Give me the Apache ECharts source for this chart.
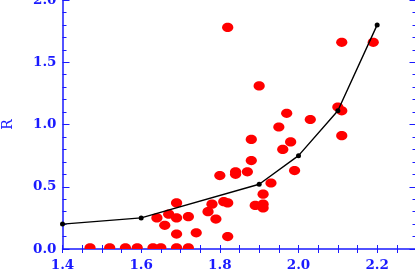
<!DOCTYPE html>
<html><head><meta charset="utf-8">
<script src="https://cdn.jsdelivr.net/npm/echarts@6/dist/echarts.min.js"></script>
<style>html,body{margin:0;padding:0;background:#fff}#c{width:415px;height:277px}</style>
</head><body><div id="c"></div>
<script>
// Black curve (x, R)
var curveX = [1.4, 1.6, 1.9, 2.0, 2.1, 2.2];
var curveR = [0.20, 0.25, 0.52, 0.75, 1.11, 1.80];
// Red measurements (x, R)
var pointsX = [1.82, 1.90, 2.11, 2.19, 2.10, 2.11, 2.03, 2.11, 1.97, 1.95,
               1.88, 1.98, 1.96, 1.88, 1.87, 1.99, 1.93, 1.91, 1.89, 1.91,
               1.91, 1.80, 1.84, 1.84, 1.69, 1.78, 1.81, 1.82, 1.77, 1.64,
               1.67, 1.69, 1.72, 1.79, 1.66, 1.69, 1.74, 1.82,
               1.47, 1.52, 1.56, 1.59, 1.63, 1.65, 1.69, 1.72];
var pointsR = [1.78, 1.31, 1.66, 1.66, 1.14, 1.11, 1.04, 0.91, 1.09, 0.98,
               0.88, 0.86, 0.80, 0.71, 0.62, 0.63, 0.53, 0.44, 0.35, 0.36,
               0.33, 0.59, 0.62, 0.60, 0.37, 0.36, 0.38, 0.37, 0.30, 0.25,
               0.28, 0.25, 0.26, 0.24, 0.19, 0.12, 0.13, 0.10,
               0.01, 0.01, 0.01, 0.01, 0.01, 0.01, 0.01, 0.01];
var xTickLabels = ['1.4', '1.6', '1.8', '2.0', '2.2'];
var yTickLabels = ['0.0', '0.5', '1.0', '1.5', '2.0'];
var yTitle = 'R';

var blue = '#1a1aff';
var font = 'DejaVu Serif';
function xFmt(v) {
  var s = v.toFixed(1);
  return (Math.abs(v * 5 - Math.round(v * 5)) < 1e-6 && xTickLabels.indexOf(s) >= 0) ? s : '';
}
function yFmt(v) {
  var s = v.toFixed(1);
  return yTickLabels.indexOf(s) >= 0 ? s : '';
}
var xCommon = {
  type: 'value', min: 1.4, max: 2.3, interval: 0.05,
  splitLine: {show: false},
  axisTick: {inside: true, length: 4, lineStyle: {color: blue, width: 1}}
};
var yCommon = {
  type: 'value', min: 0, max: 2, interval: 0.5,
  splitLine: {show: false},
  axisTick: {inside: true, length: 7, lineStyle: {color: blue, width: 1}},
  minorTick: {show: true, splitNumber: 5, length: 4, lineStyle: {color: blue, width: 1}}
};
var chart = echarts.init(document.getElementById('c'), null, {renderer: 'canvas'});
chart.setOption({
  animation: false,
  backgroundColor: '#fff',
  grid: {left: 62.5, top: 0, width: 354, height: 249, containLabel: false, outerBoundsMode: 'none'},
  xAxis: [
    Object.assign({}, xCommon, {
      position: 'bottom',
      axisLine: {show: true, lineStyle: {color: blue, width: 1.5}},
      axisLabel: {show: true, interval: 0, formatter: xFmt, color: blue,
        fontFamily: font, fontWeight: 'bold', fontSize: 13.5, margin: 9}
    }),
    Object.assign({}, xCommon, {
      position: 'top',
      axisLine: {show: false},
      axisLabel: {show: false}
    })
  ],
  yAxis: [
    Object.assign({}, yCommon, {
      position: 'left',
      name: yTitle, nameLocation: 'middle', nameGap: 47, nameRotate: 90,
      nameTextStyle: {color: blue, fontFamily: font, fontSize: 14},
      axisLine: {show: true, lineStyle: {color: blue, width: 1.5}},
      axisLabel: {show: true, formatter: yFmt, color: blue,
        fontFamily: font, fontWeight: 'bold', fontSize: 13.5, margin: 6}
    }),
    Object.assign({}, yCommon, {
      position: 'right',
      axisLine: {show: false},
      axisLabel: {show: false}
    })
  ],
  series: [
    {
      type: 'custom',
      clip: true,
      data: pointsX.map(function (x, i) { return [x, pointsR[i]]; }),
      renderItem: function (params, api) {
        var p = api.coord([api.value(0), api.value(1)]);
        return {
          type: 'ellipse',
          shape: {cx: p[0], cy: p[1], rx: 5.6, ry: 4.6},
          style: {fill: '#ff0000'}
        };
      },
      z: 2
    },
    {
      type: 'line',
      data: curveX.map(function (x, i) { return [x, curveR[i]]; }),
      symbol: 'circle', symbolSize: 5,
      itemStyle: {color: '#000'},
      lineStyle: {color: '#000', width: 1.4},
      z: 3
    }
  ]
});
</script></body></html>
